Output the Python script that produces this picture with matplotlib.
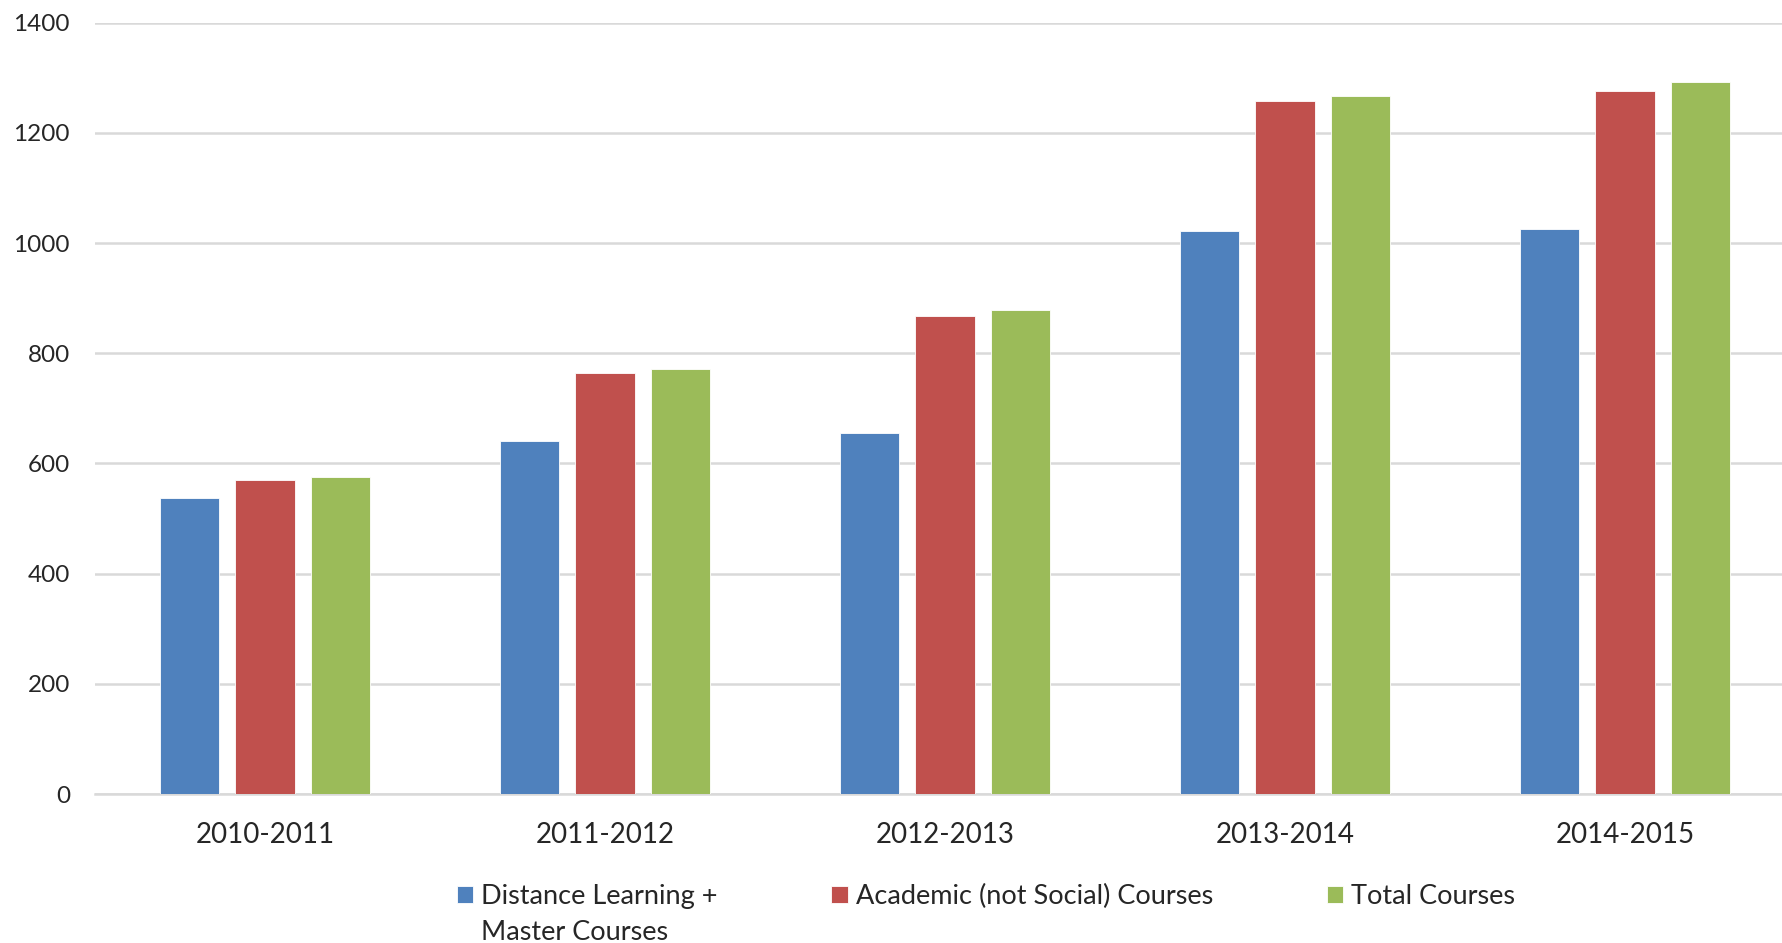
import matplotlib.pyplot as plt
import numpy as np

plt.rcParams['font.family'] = ['Lato', 'DejaVu Sans']

years = ["2010-2011", "2011-2012", "2012-2013", "2013-2014", "2014-2015"]
distance_master = [538, 640, 655, 1021, 1025]
academic = [569, 764, 867, 1257, 1276]
total = [576, 772, 878, 1266, 1292]

series = [
    ("Distance Learning +", distance_master, "#4F81BD"),
    ("Academic (not Social) Courses", academic, "#C0504D"),
    ("Total Courses", total, "#9BBB59"),
]
text_col = "#262626"

fig = plt.figure(figsize=(17.83, 9.43), dpi=100)
ax = fig.add_axes([0.0533, 0.158, 0.9535, 0.818])

x = np.arange(len(years))
width = 0.175
step = 0.222
for i, (name, vals, col) in enumerate(series):
    ax.bar(x + (i - 1) * step, vals, width, color=col, label=name,
           edgecolor="white", linewidth=0.6, zorder=3)

ax.set_xlim(-0.5, 4.5)
ax.set_ylim(0, 1400)
ax.set_yticks(range(0, 1401, 200))
ax.set_xticks(x)
ax.set_xticklabels(years)
ax.grid(axis="y", color="#D9D9D9", linewidth=1.8, zorder=0)
for s in ["top", "right", "left"]:
    ax.spines[s].set_visible(False)
ax.spines["bottom"].set_color("#D9D9D9")
ax.spines["bottom"].set_linewidth(1.8)
ax.tick_params(axis="both", length=0, colors=text_col)
ax.tick_params(axis="x", pad=20, labelsize=20)
ax.tick_params(axis="y", pad=18, labelsize=17.5)

leg = fig.legend(loc="center", bbox_to_anchor=(0.553, 0.0495), ncol=3, frameon=False,
                 fontsize=19.5, handlelength=0.6, handleheight=0.6, handletextpad=0.3,
                 columnspacing=4.2, labelcolor=text_col)

# second line of the first legend label, left-aligned under the first line
fig.canvas.draw()
bb = leg.get_texts()[0].get_window_extent()
W, H = fig.canvas.get_width_height()
fig.text(bb.x0 / W, (bb.y0 - 36) / H, "Master Courses", fontsize=19.5,
         color=text_col, ha="left", va="bottom")

fig.savefig("out.png", dpi=100)
